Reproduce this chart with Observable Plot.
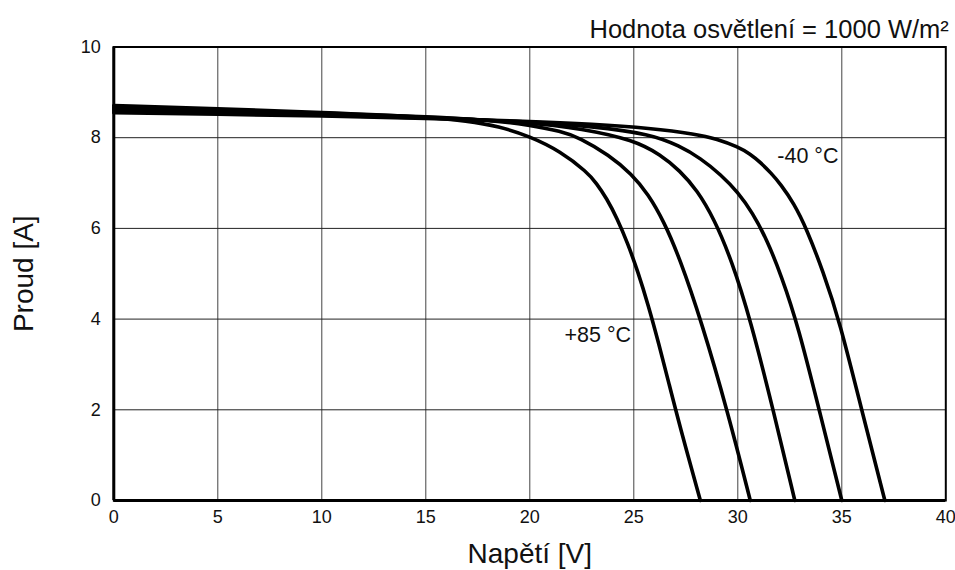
<!DOCTYPE html>
<html>
<head>
<meta charset="utf-8">
<script src="https://cdn.jsdelivr.net/npm/d3@7"></script>
<script src="https://cdn.jsdelivr.net/npm/@observablehq/plot@0.6"></script>
<style>
  html, body { margin: 0; padding: 0; background: #fff; }
</style>
</head>
<body>
<div id="chart"></div>
<script>
// Tick values
const xTicks = [0, 5, 10, 15, 20, 25, 30, 35, 40];
const yTicks = [0, 2, 4, 6, 8, 10];

// I-V curves at 1000 W/m² (voltage [V], current [A])
const v85 = [0, 5, 10, 15, 17, 18.5, 20, 21.47, 22.76, 23.2, 23.7, 24.2, 24.7, 25.2, 25.7, 26.2, 26.7, 27.2, 28.2];
const i85 = [8.71, 8.64, 8.56, 8.46, 8.37, 8.25, 8.03, 7.70, 7.24, 7.0, 6.66, 6.22, 5.68, 5.04, 4.3, 3.46, 2.56, 1.66, 0];

const v50 = [0, 5, 10, 15, 18, 20, 21.5, 22.4, 23.8, 24.9, 25.7, 26.45, 27.2, 28.25, 29.52, 30.6];
const i50 = [8.67, 8.61, 8.54, 8.47, 8.39, 8.28, 8.14, 8.0, 7.62, 7.2, 6.75, 6.15, 5.35, 3.95, 1.95, 0];

const v25 = [0, 5, 10, 15, 20, 22.5, 25, 26.3, 27.2, 28.05, 28.87, 29.7, 30.6, 31.73, 32.74];
const i25 = [8.63, 8.58, 8.52, 8.46, 8.34, 8.2, 7.95, 7.62, 7.28, 6.84, 6.2, 5.3, 4.0, 1.95, 0];

const vm10 = [0, 5, 10, 15, 20, 23, 25.8, 27.2, 28.2, 29.2, 30, 30.7, 31.4, 32.1, 32.9, 33.94, 35.0];
const im10 = [8.59, 8.55, 8.50, 8.44, 8.35, 8.25, 8.08, 7.82, 7.55, 7.18, 6.8, 6.35, 5.75, 4.95, 3.85, 1.95, 0];

const vm40 = [0, 5, 10, 15, 20, 23, 25.8, 28, 29, 30, 30.6, 31.1, 31.6, 32.05, 32.7, 33.3, 34.1, 34.9, 35.98, 37.07];
const im40 = [8.55, 8.52, 8.48, 8.43, 8.36, 8.30, 8.21, 8.08, 7.97, 7.80, 7.64, 7.45, 7.22, 6.98, 6.55, 6.0, 5.05, 3.95, 1.95, 0];

const seriesNames = ["+85 °C", "50 °C", "25 °C", "-10 °C", "-40 °C"];
const seriesV = [v85, v50, v25, vm10, vm40];
const seriesI = [i85, i50, i25, im10, im40];

// Curve annotations (data coordinates)
const labelText = ["-40 °C", "+85 °C"];
const labelV = [31.9, 21.67];
const labelI = [7.59, 3.64];

const titleText = "Hodnota osvětlení = 1000 W/m²";
const xLabel = "Napětí [V]";
const yLabel = "Proud [A]";

const rows = seriesNames.flatMap((name, k) =>
  seriesV[k].map((v, j) => ({ name, V: v, I: seriesI[k][j] }))
);
const labels = labelText.map((t, k) => ({ t, V: labelV[k], I: labelI[k] }));

const font = "'Liberation Sans', Arial, Helvetica, sans-serif";

const chart = Plot.plot({
  width: 955,
  height: 570,
  marginLeft: 113.3,
  marginRight: 9.7,
  marginTop: 46.5,
  marginBottom: 70,
  style: { fontFamily: font, fontSize: "18px", color: "#111", background: "#fff" },
  x: { domain: [0, 40], ticks: xTicks, tickSize: 0, tickPadding: 10, label: null },
  y: { domain: [0, 10], ticks: yTicks, tickSize: 0, tickPadding: 13, label: null },
  marks: [
    Plot.ruleX(xTicks.slice(1, -1), { stroke: "#444", strokeWidth: 1 }),
    Plot.ruleY(yTicks.slice(1, -1), { stroke: "#222", strokeWidth: 1 }),
    Plot.line(rows, { x: "V", y: "I", z: "name", curve: "basis", stroke: "#000", strokeWidth: 3.6 }),
    Plot.frame({ stroke: "#000", strokeWidth: 2 }),
    Plot.ruleX([0], { stroke: "#000", strokeWidth: 3 }),
    Plot.ruleY([0], { stroke: "#000", strokeWidth: 3 }),
    Plot.text(labels, { x: "V", y: "I", text: "t", textAnchor: "start", lineAnchor: "middle", fontSize: 21.5, fill: "#111" }),
    Plot.text([titleText], { frameAnchor: "top-right", textAnchor: "end", lineAnchor: "middle", dx: 3, dy: -17.3, fontSize: 25.5, fill: "#111" }),
    Plot.text([xLabel], { frameAnchor: "bottom", textAnchor: "middle", lineAnchor: "middle", dy: 54, fontSize: 28, fill: "#111" }),
    Plot.text([yLabel], { frameAnchor: "left", textAnchor: "middle", lineAnchor: "middle", rotate: -90, dx: -90, fontSize: 28, fill: "#111" })
  ]
});

document.getElementById("chart").appendChild(chart);
</script>
</body>
</html>
